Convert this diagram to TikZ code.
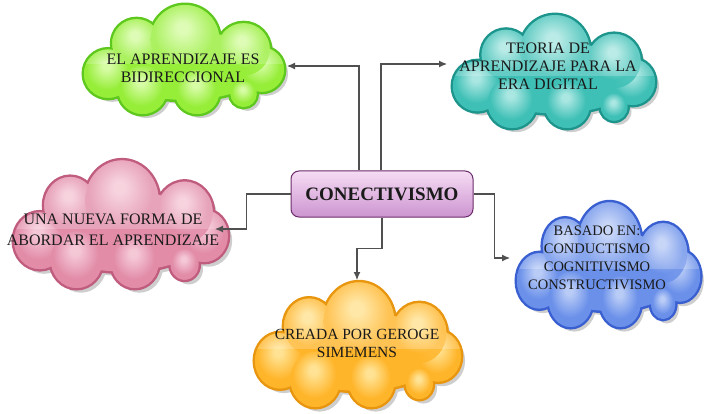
\documentclass[tikz,border=0pt]{standalone}
\usepackage{fontspec}
\setmainfont{Liberation Serif}
\usetikzlibrary{arrows.meta}
\definecolor{connc}{HTML}{505050}
\definecolor{textc}{HTML}{1A1A1A}
\definecolor{ctop}{HTML}{F6DCF4}
\definecolor{cbot}{HTML}{CC94D0}
\definecolor{cborder}{HTML}{6B2C6B}
\colorlet{cloudlight}{white}
\colorlet{cloudbase}{gray}
\colorlet{clouddark}{black}
\pgfdeclareradialshading[cloudlight,cloudbase,clouddark]{glossy}{\pgfpoint{-2bp}{9bp}}{color(0bp)=(cloudlight); color(4bp)=(cloudlight); color(22bp)=(cloudbase); color(30bp)=(cloudbase); color(40bp)=(cloudbase!80!clouddark); color(50bp)=(cloudbase!80!clouddark)}
\newcommand{\cloudcircles}{(100,62) ellipse (80 and 34) (24,70) circle (24) (176,66) circle (22) (52,40) circle (24) (158,46) circle (26) (100,36) circle (34) (58,86) circle (24) (112,88) circle (22) (158,90) circle (13)}
\newcommand{\setcloud}[3]{\definecolor{cloudlight}{HTML}{#1}\definecolor{cloudbase}{HTML}{#2}\definecolor{clouddark}{HTML}{#3}}
\newcommand{\drawcloud}[4]{%
  \begin{scope}[shift={(#1,#2)}, xscale=#3/200, yscale=#4/110]
    \begin{scope}[transparency group, opacity=0.35]
      \fill[black!55, shift={(4,4)}] \cloudcircles;
    \end{scope}
    \draw[line width=5pt, clouddark] \cloudcircles;
    \fill[cloudbase] \cloudcircles;
    \foreach \cx/\cy/\r in {24/70/24, 176/66/22, 52/40/24, 158/46/26, 100/36/34, 58/86/24, 112/88/22, 158/90/13}
      {\shade[shading=glossy, opacity=0.85] (\cx,\cy) circle (\r);}
    \begin{scope}
      \clip \cloudcircles;
      \fill[white, opacity=0.2] (-5,-5) rectangle (205,60);
    \end{scope}
  \end{scope}}
\begin{document}
\begin{tikzpicture}[x=1pt,y=-1pt,
  conn/.style={draw=connc, line width=1.1pt, -{Latex[length=8pt,width=7pt]}},
  ctext/.style={align=center, text=textc, inner sep=0pt, font=\fontsize{16}{18}\selectfont}]
\useasboundingbox (0,0) rectangle (709,414);
% clouds
\setcloud{E2FFB8}{96EE38}{5EC81E}\drawcloud{84}{3}{202}{111}
\setcloud{BDEEEA}{3EC0B6}{1E958C}\drawcloud{453}{13}{204}{115}
\setcloud{F9D3DF}{E28CA8}{C05C7E}\drawcloud{14}{158}{216}{130}
\setcloud{C8D7F9}{6A90EA}{3A5FD0}\drawcloud{517}{200}{185}{127}
\setcloud{FFEBA6}{FFB52A}{E8950F}\drawcloud{255}{280}{208}{127}
% texts
\node[ctext] (tgreen) at (183,68) {EL APRENDIZAJE ES\\BIDIRECCIONAL};
\node[ctext] (tteal) at (548,66) {TEORIA DE\\APRENDIZAJE PARA LA\\ERA DIGITAL};
\node[ctext, font=\fontsize{16}{21}\selectfont] (tpink) at (113,230) {UNA NUEVA FORMA DE\\ABORDAR EL APRENDIZAJE};
\node[ctext, font=\fontsize{14.5}{18}\selectfont] (tblue) at (597,258) {BASADO EN:\\CONDUCTISMO\\COGNITIVISMO\\CONSTRUCTIVISMO};
\node[ctext, font=\fontsize{15.5}{18}\selectfont] (torange) at (357,343) {CREADA POR GEROGE\\SIMEMENS};
% central
\node[draw=cborder, line width=1pt, rounded corners=8pt, top color=ctop, bottom color=cbot,
      minimum width=182pt, minimum height=46pt, inner sep=0pt, text=textc,
      font=\bfseries\fontsize{19}{22}\selectfont] (c) at (382,194) {CONECTIVISMO};
% connectors
\coordinate (aTL) at (287,66);
\coordinate (aTR) at (447,64);
\coordinate (aL) at (215,229);
\coordinate (aR) at (510,258);
\coordinate (aB) at (357,280);
\draw[conn] ([xshift=-23pt]c.north) |- (aTL);
\draw[conn] ([xshift=-1pt]c.north) |- (aTR);
\draw[conn] (c.west) -- ++(-44,0) |- (aL);
\draw[conn] (c.east) -- ++(21,0) |- (aR);
\draw[conn] (c.south) -- ++(0,31) -| (aB);
\end{tikzpicture}
\end{document}
